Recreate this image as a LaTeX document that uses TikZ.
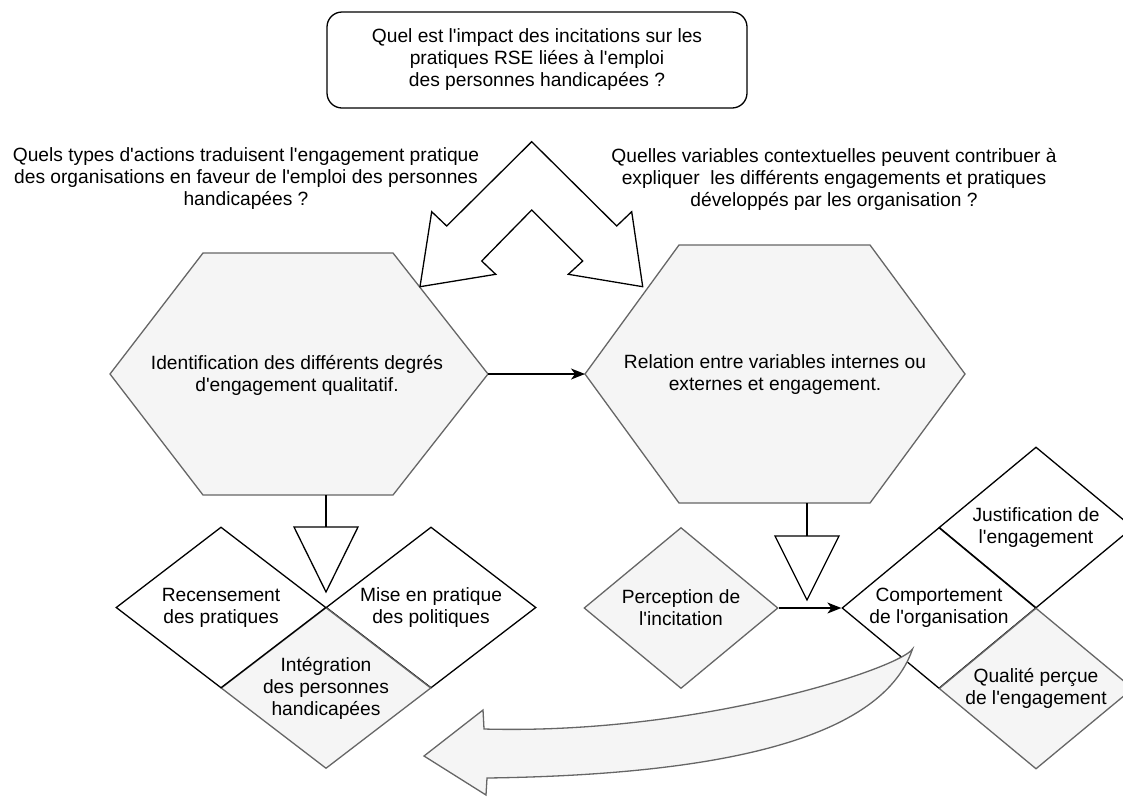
\documentclass[tikz,border=0pt]{standalone}
\usepackage{fontspec}
\setmainfont{Liberation Sans}[Ligatures=TeXOff]
\usetikzlibrary{shapes.geometric,arrows.meta}
\definecolor{gfill}{HTML}{F5F5F5}
\definecolor{gline}{HTML}{666666}
\tikzset{
 txt/.style={font=\fontsize{19.2}{22}\selectfont, align=center, inner sep=0pt},
 wshape/.style={draw=black, fill=white, line width=1.3pt},
 gshape/.style={draw=gline, fill=gfill, line width=1.3pt},
 ldia/.style={diamond, minimum width=210pt, minimum height=161pt, inner sep=0pt},
 rdia/.style={diamond, minimum width=194pt, minimum height=161pt, inner sep=0pt},
 conn/.style={draw=black, line width=1.3pt},
 arr/.style={conn, -{Stealth[length=14pt,width=11pt,inset=4pt]}},
}
\begin{document}
\begin{tikzpicture}[x=1pt,y=-1pt]
\useasboundingbox (0,0) rectangle (1123,796);

% top question
\node[txt, wshape, rounded corners=15pt, minimum width=420pt, minimum height=96pt] (q0) at (537,60)
  {Quel est l'impact des incitations sur les\\pratiques RSE liées à l'emploi\\des personnes handicapées ?};

% side questions
\node[txt] (ql) at (246,179) {Quels types d'actions traduisent l'engagement pratique\\des organisations en faveur de l'emploi des personnes\\handicapées ?};
\node[txt] (qr) at (834,179) {Quelles variables contextuelles peuvent contribuer à\\expliquer\ \ les différents engagements et pratiques\\développés par les organisation ?};

% hexagons
\coordinate (hlL) at (110,374);
\coordinate (hlR) at (488,374);
\coordinate (hlB) at (326,495);
\draw[gshape] (hlL) -- (203,253) -- (393,253) -- (hlR) -- (393,495) -- (203,495) -- cycle;
\node[txt] (hl) at (297,375) {Identification des différents degrés\\d'engagement qualitatif.};

\coordinate (hrL) at (585,374);
\coordinate (hrR) at (965,374);
\coordinate (hrB) at (807,503);
\draw[gshape] (hrL) -- (679,245) -- (870,245) -- (hrR) -- (870,503) -- (679,503) -- cycle;
\node[txt] (hr) at (775,375) {Relation entre variables internes ou\\externes et engagement.};

% double arrow
\coordinate (da) at (531.7,141.7);
\draw[wshape] (da) -- (616.7,226) -- (631.7,211.7) -- (642.7,286.7) -- (568.3,274.3) -- (582.7,261)
  -- (531.7,210) -- (481.7,261) -- (495.7,274.3) -- (420,286.7) -- (431.7,211.7) -- (446.7,226) -- cycle;

% hexagon to hexagon
\draw[arr] (hlR) -- (hrL);

% left triangle
\coordinate (tlT) at (326,527);
\draw[conn] (hlB) -- (tlT);
\draw[wshape] (294,527) -- (358,527) -- (326,592) -- cycle;

% right triangle
\coordinate (trT) at (807,536);
\draw[conn] (hrB) -- (trT);
\draw[wshape] (775,536) -- (839,536) -- (807,600) -- cycle;

% left diamonds
\node[ldia, wshape, label={[txt]center:{Mise en pratique\\des politiques}}] (mise) at (431,607.5) {};
\node[ldia, gshape, label={[txt]center:{Intégration\\des personnes\\handicapées}}] (integ) at (326,688) {};
\node[ldia, wshape, label={[txt]center:{Recensement\\des pratiques}}] (recens) at (221,607.5) {};

% right diamonds
\node[rdia, gshape, label={[txt]center:{Perception de\\l'incitation}}] (perc) at (681,608) {};
\node[rdia, wshape, label={[txt]center:{Justification de\\l'engagement}}] (justif) at (1036,527.5) {};
\node[rdia, wshape, label={[txt]center:{Comportement\\de l'organisation}}] (comp) at (939,608) {};
\node[rdia, gshape, label={[txt]center:{Qualité perçue\\de l'engagement}}] (qual) at (1036,688.5) {};

\draw[arr] (perc.east) -- (comp.west);

% curved arrow
\coordinate (ct) at (912.5,649);
\draw[gshape] (ct) .. controls (900,668) and (700,735) .. (484,729) -- (483,710) -- (424,756) -- (486,795)
  -- (487,778) .. controls (700,775) and (880,745) .. (ct) -- cycle;
\end{tikzpicture}
\end{document}
